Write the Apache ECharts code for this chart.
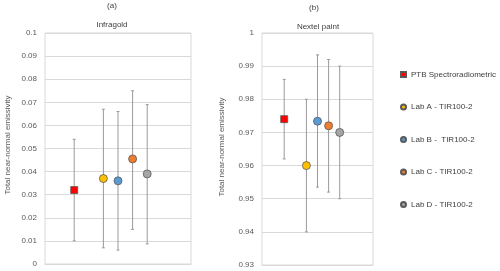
<!DOCTYPE html>
<html>
<head>
<meta charset="utf-8">
<script src="https://cdn.jsdelivr.net/npm/echarts@6/dist/echarts.min.js"></script>
<style>html,body{margin:0;padding:0;background:#fff}#c{width:500px;height:271px}</style>
</head>
<body>
<div id="c"></div>
<script>
const seriesNames = ['PTB Spectroradiometric', 'Lab A - TIR100-2', 'Lab B -  TIR100-2', 'Lab C - TIR100-2', 'Lab D - TIR100-2'];
const infragoldValue = [0.032, 0.037, 0.036, 0.0455, 0.039];
const infragoldLow = [0.010, 0.007, 0.006, 0.015, 0.0087];
const infragoldHigh = [0.054, 0.067, 0.066, 0.075, 0.069];
const nextelValue = [0.974, 0.960, 0.9734, 0.972, 0.970];
const nextelLow = [0.962, 0.940, 0.9535, 0.952, 0.950];
const nextelHigh = [0.986, 0.980, 0.9934, 0.992, 0.990];
const panelTitles = ['(a)', '(b)'];
const sampleNames = ['Infragold', 'Nextel paint'];
const yAxisTitle = 'Total near-normal emissivity';

const colors = ['#FF0000', '#FFC000', '#5B9BD5', '#ED7D31', '#A5A5A5'];
const symbols = ['rect', 'circle', 'circle', 'circle', 'circle'];
const FONT = 'Liberation Sans, Arial, sans-serif';
// PTB sits alone; labs are grouped next to each other
const slotOf = i => (i === 0 ? 0 : i + 1);

const chart = echarts.init(document.getElementById('c'), null, {renderer: 'canvas'});

const panels = [
  {value: infragoldValue, low: infragoldLow, high: infragoldHigh},
  {value: nextelValue, low: nextelLow, high: nextelHigh}
];

const series = [];
panels.forEach((p, g) => {
  series.push({
    type: 'custom',
    xAxisIndex: g, yAxisIndex: g,
    silent: true,
    z: 1,
    data: p.value.map((v, i) => [slotOf(i), p.low[i], p.high[i]]),
    renderItem: function (params, api) {
      const x = api.value(0);
      const lo = api.coord([x, api.value(1)]);
      const hi = api.coord([x, api.value(2)]);
      const cap = 1.5;
      const st = {stroke: '#9a9a9a', lineWidth: 1};
      return {
        type: 'group',
        children: [
          {type: 'line', shape: {x1: lo[0], y1: lo[1], x2: hi[0], y2: hi[1]}, style: st},
          {type: 'line', shape: {x1: lo[0] - cap, y1: lo[1], x2: lo[0] + cap, y2: lo[1]}, style: st},
          {type: 'line', shape: {x1: hi[0] - cap, y1: hi[1], x2: hi[0] + cap, y2: hi[1]}, style: st}
        ]
      };
    }
  });
  seriesNames.forEach((name, i) => {
    series.push({
      type: 'scatter',
      name: name,
      xAxisIndex: g, yAxisIndex: g,
      z: 3,
      symbol: symbols[i],
      symbolSize: i === 0 ? 7 : 8,
      itemStyle: {color: colors[i], borderColor: '#595959', borderWidth: 0.8, opacity: 1},
      data: [[slotOf(i), p.value[i]]]
    });
  });
});

const axisLabel = {fontFamily: FONT, fontSize: 8, color: '#595959', margin: 8};
const splitLine = {show: true, lineStyle: {color: '#d9d9d9', width: 1}};

chart.setOption({
  animation: false,
  backgroundColor: '#fff',
  grid: [
    {left: 45, top: 33, width: 146, height: 231, show: true, borderColor: '#d9d9d9', borderWidth: 1},
    {left: 262, top: 33, width: 111, height: 232, show: true, borderColor: '#d9d9d9', borderWidth: 1}
  ],
  xAxis: [0, 1].map(g => ({
    type: 'value', gridIndex: g, min: -2, max: 8,
    show: true,
    axisLine: {show: true, lineStyle: {color: '#d9d9d9'}},
    axisTick: {show: false}, axisLabel: {show: false}, splitLine: {show: false}
  })),
  yAxis: [
    {type: 'value', gridIndex: 0, min: 0, max: 0.1, interval: 0.01,
      axisLine: {show: false}, axisTick: {show: false}, axisLabel: axisLabel, splitLine: splitLine},
    {type: 'value', gridIndex: 1, min: 0.93, max: 1, interval: 0.01,
      axisLine: {show: false}, axisTick: {show: false}, axisLabel: axisLabel, splitLine: splitLine}
  ],
  legend: {
    orient: 'vertical',
    left: 400, top: 69.5, padding: 0,
    itemWidth: 5, itemHeight: 5, itemGap: 22.5,
    textStyle: {fontFamily: FONT, fontSize: 8, color: '#404040', lineHeight: 10},
    data: seriesNames.map((n, i) => ({name: n, icon: symbols[i]})),
    selectedMode: false
  },
  graphic: [
    {type: 'text', x: 112, y: 6, style: {text: panelTitles[0], font: '8px ' + FONT, fill: '#404040', align: 'center', verticalAlign: 'middle'}},
    {type: 'text', x: 112, y: 25, style: {text: sampleNames[0], font: '8px ' + FONT, fill: '#404040', align: 'center', verticalAlign: 'middle'}},
    {type: 'text', x: 314, y: 8, style: {text: panelTitles[1], font: '8px ' + FONT, fill: '#404040', align: 'center', verticalAlign: 'middle'}},
    {type: 'text', x: 318, y: 27, style: {text: sampleNames[1], font: '8px ' + FONT, fill: '#404040', align: 'center', verticalAlign: 'middle'}},
    {type: 'text', x: 8, y: 145, rotation: Math.PI / 2, style: {text: yAxisTitle, font: '8px ' + FONT, fill: '#595959', align: 'center', verticalAlign: 'middle'}},
    {type: 'text', x: 222, y: 147, rotation: Math.PI / 2, style: {text: yAxisTitle, font: '8px ' + FONT, fill: '#595959', align: 'center', verticalAlign: 'middle'}}
  ],
  series: series
});
</script>
</body>
</html>
